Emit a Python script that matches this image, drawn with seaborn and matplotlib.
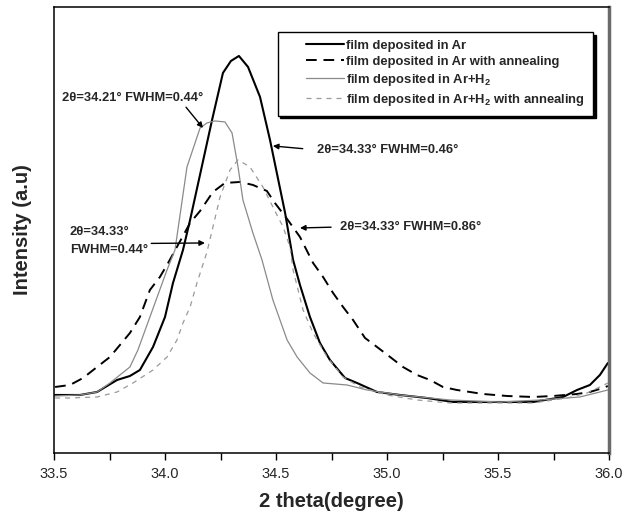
import numpy as np
import pandas as pd
import matplotlib
matplotlib.use("Agg")
import matplotlib.pyplot as plt
from matplotlib.lines import Line2D
from matplotlib.legend_handler import HandlerLine2D
import seaborn as sns

# --------------------------
# Data (2 theta in degrees, intensity in a.u.)
# --------------------------
ar_x = [33.500, 33.617, 33.694, 33.784, 33.842, 33.887, 33.946, 34.000, 34.036, 34.081,
        34.113, 34.212, 34.261, 34.297, 34.333, 34.374, 34.428, 34.473, 34.541, 34.577,
        34.608, 34.653, 34.698, 34.743, 34.811, 34.865, 34.955, 35.059, 35.180, 35.297,
        35.509, 35.658, 35.793, 35.856, 35.914, 35.959, 35.995]
ar_y = [58, 58, 61, 73, 77, 83, 106, 136, 170, 203,
        233, 333, 380, 392, 397, 386, 356, 313, 240, 193,
        168, 136, 110, 93, 75, 70, 61, 58, 55, 51,
        51, 51, 56, 63, 68, 78, 90]

ar_ann_x = [33.505, 33.572, 33.631, 33.694, 33.752, 33.797, 33.842, 33.887, 33.932, 33.977,
            34.014, 34.113, 34.158, 34.216, 34.270, 34.338, 34.396, 34.459, 34.495, 34.550,
            34.608, 34.667, 34.712, 34.757, 34.802, 34.847, 34.901, 34.955, 35.014, 35.072,
            35.135, 35.194, 35.252, 35.315, 35.432, 35.541, 35.658, 35.748, 35.856, 35.914,
            35.973, 35.995]
ar_ann_y = [66, 68, 75, 86, 96, 108, 120, 136, 163, 176,
            190, 230, 242, 261, 270, 271, 268, 262, 250, 234,
            216, 190, 176, 160, 146, 133, 115, 106, 96, 86,
            78, 73, 66, 63, 59, 57, 56, 57, 59, 61,
            65, 67]

arh_x = [33.500, 33.617, 33.694, 33.752, 33.842, 33.878, 33.932, 34.009, 34.045, 34.099,
         34.158, 34.189, 34.225, 34.270, 34.302, 34.329, 34.351, 34.396, 34.437, 34.486,
         34.550, 34.595, 34.653, 34.712, 34.820, 34.910, 35.059, 35.284, 35.509, 35.689,
         35.869, 35.995]
arh_y = [57, 58, 61, 70, 86, 103, 136, 183, 203, 286,
         325, 330, 332, 331, 320, 286, 253, 220, 193, 153,
         113, 96, 80, 70, 68, 63, 58, 53, 51, 53,
         56, 63]

arh_ann_x = [33.505, 33.572, 33.694, 33.784, 33.856, 33.946, 34.009, 34.054, 34.081, 34.113,
             34.144, 34.189, 34.216, 34.248, 34.293, 34.329, 34.383, 34.441, 34.486, 34.532,
             34.563, 34.577, 34.622, 34.667, 34.730, 34.802, 34.878, 35.000, 35.135, 35.284,
             35.432, 35.658, 35.811, 35.901, 35.959, 35.995]
arh_ann_y = [55, 55, 56, 61, 70, 83, 96, 113, 130, 146,
             170, 201, 226, 256, 283, 293, 286, 266, 246, 226,
             206, 183, 143, 120, 96, 76, 66, 58, 53, 50,
             50, 50, 55, 60, 66, 70]

labels = ["film deposited in Ar",
          "film deposited in Ar with annealing",
          "film deposited in Ar+H$_2$",
          "film deposited in Ar+H$_2$ with annealing"]

xticks = [33.5, 34.0, 34.5, 35.0, 35.5, 36.0]

# --------------------------
# Style
# --------------------------
sns.set_theme(style="white")
plt.rcParams["font.family"] = ["Liberation Sans", "DejaVu Sans"]
plt.rcParams["mathtext.fontset"] = "custom"
plt.rcParams["mathtext.rm"] = "Liberation Sans:bold"
plt.rcParams["mathtext.bf"] = "Liberation Sans:bold"
plt.rcParams["mathtext.default"] = "regular"

fig = plt.figure(figsize=(6.25, 5.26), dpi=100)
ax = fig.add_axes([0.0864, 0.1388, 0.888, 0.848])

series = [
    (ar_x, ar_y, dict(color="black", lw=1.5, linestyle="-")),
    (ar_ann_x, ar_ann_y, dict(color="black", lw=1.4, linestyle=(0, (5.5, 3.5)))),
    (arh_x, arh_y, dict(color="#8a8a8a", lw=0.9, linestyle="-")),
    (arh_ann_x, arh_ann_y, dict(color="#9a9a9a", lw=0.9, linestyle=(0, (4, 4)))),
]
for (xs, ys, kw), lab in zip(series, labels):
    df = pd.DataFrame({"two_theta": xs, "intensity": ys})
    sns.lineplot(data=df, x="two_theta", y="intensity", estimator=None,
                 label=lab, ax=ax, **kw)

ax.set_xlim(33.5, 36.0)
ax.set_ylim(0, 446)
ax.set_xticks(xticks)
ax.set_xticklabels([f"{t:.1f}" for t in xticks], fontsize=10.5)
ax.set_xticks(np.arange(33.75, 36.0, 0.5), minor=True)
ax.set_yticks([])
ax.tick_params(axis="x", which="both", direction="out", length=5, width=1,
               color="black", bottom=True, pad=5)

for side in ["left", "bottom", "top"]:
    ax.spines[side].set_color("black")
    ax.spines[side].set_linewidth(1.1)
ax.spines["right"].set_color("#6a6a6a")
ax.spines["right"].set_linewidth(2.5)

ax.set_xlabel("2 theta(degree)", fontsize=14.5, fontweight="bold", labelpad=8)
ax.set_ylabel("Intensity (a.u)", fontsize=14.5, fontweight="bold", labelpad=16)

# --------------------------
# Annotations
# --------------------------
afont = dict(fontsize=9.3, fontweight="bold")
arrow = dict(arrowstyle="-|>", color="black", lw=1, mutation_scale=8,
             shrinkA=0, shrinkB=0)

ax.annotate("2θ=34.21° FWHM=0.44°", xy=(34.171, 325), xytext=(33.536, 355),
            ha="left", va="center",
            arrowprops=dict(arrow, relpos=(0.86, 0.0)), **afont)
ax.annotate("2θ=34.33° FWHM=0.46°", xy=(34.486, 307), xytext=(34.685, 303),
            ha="left", va="center",
            arrowprops=dict(arrow, relpos=(0.0, 0.5), shrinkA=8), **afont)
ax.annotate("2θ=34.33° FWHM=0.86°", xy=(34.608, 225), xytext=(34.788, 226),
            ha="left", va="center",
            arrowprops=dict(arrow, relpos=(0.0, 0.5), shrinkA=4), **afont)
ax.annotate("2θ=34.33°\nFWHM=0.44°", xy=(34.180, 210), xytext=(33.572, 212),
            ha="left", va="center", linespacing=1.75,
            arrowprops=dict(arrow, relpos=(1.0, 0.42)), **afont)

leg = ax.legend(loc="upper right", bbox_to_anchor=(0.971, 0.944), borderaxespad=0,
                prop=dict(size=9.4, weight="bold"), handlelength=4.5, handletextpad=0.15,
                labelspacing=0.3, borderpad=0.6, fancybox=False, framealpha=1,
                edgecolor="black", shadow=dict(color="black", alpha=1),
                handler_map={Line2D: HandlerLine2D(xpad=1.6)})
leg.get_frame().set_linewidth(1)

plt.savefig("out.png", dpi=100)
